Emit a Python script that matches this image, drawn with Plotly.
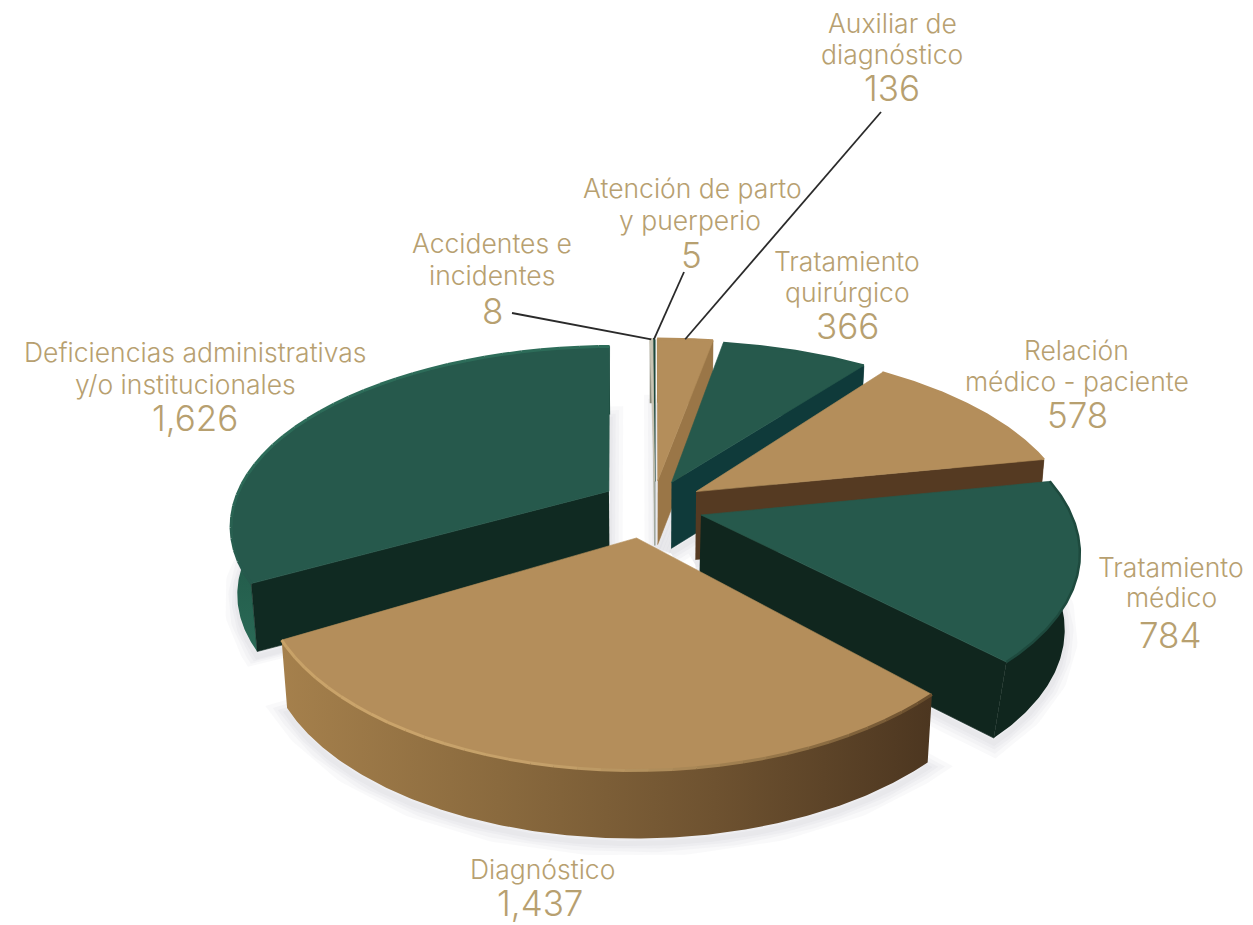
import numpy as np
import plotly.graph_objects as go

# Complaint categories, clockwise from twelve o'clock
categories = ["Auxiliar de diagnóstico", "Tratamiento quirúrgico", "Relación médico - paciente",
              "Tratamiento médico", "Diagnóstico", "Deficiencias administrativas y/o institucionales",
              "Accidentes e incidentes", "Atención de parto y puerperio"]
values = [136, 366, 578, 784, 1437, 1626, 8, 5]
value_labels = ["136", "366", "578", "784", "1,437", "1,626", "8", "5"]

# Pull-out distance of every slice, as a fraction of the pie radius
explode = [0.125, 0.15, 0.156, 0.152, 0.20, 0.125, 0.12, 0.12]
# Horizontal stretch of the rim and nudges in pixels, per slice
rim_stretch = [1.1, 1.08, 1.055, 1.035, 1.0, 1.055, 1.0, 1.0]
nudge_x = [7, 4, 3, 2, 0, 0, 8, 8]
nudge_y = [0, 4, 4, 5, 0, 0, 0, 0]
# Slice height in pixels and how much the underside narrows towards the centre
thickness = [64, 66, 68, 76, 68, 68, 64, 64]
taper = [0.985, 0.985, 0.985, 0.965, 0.985, 0.985, 1.0, 1.0]

TAN, GREEN = "#B48E5B", "#26594C"
GOLD = "#B7A070"
# top colour, rim gradient (stops, direction), cut-face colour, which radial edge shows its wall
slice_style = [
    dict(top=TAN, rim=["#9a7648", "#8a6a3e"], rim_dir="horizontal", cut="#9A7647", edge=1, bevel=["#B48E5B"]),
    dict(top=GREEN, rim=["#0F3A38", "#0F3A38"], rim_dir="horizontal", cut="#0F3A3A", edge=1, bevel=[GREEN]),
    dict(top=TAN, rim=["#6f5230", "#553A22"], rim_dir="horizontal", cut="#553A22", edge=1, bevel=["#B48E5B"]),
    dict(top=GREEN, rim=["#10261E", "#10261E"], rim_dir="horizontal", cut="#10261E", edge=1, bevel=["#1E4A3E"]),
    dict(top=TAN, rim=["#A5804C", "#8A6A3E", "#6E5230", "#4C3620"], rim_dir="horizontal", cut="#553A22", edge=None,
         bevel=["#6A4F2E", "#9A7A4C", "#C4A06A", "#CBA56C", "#C8A268"]),
    dict(top=GREEN, rim=["#2A6A56", "#123A30"], rim_dir="vertical", cut="#102A22", edge=0,
         bevel=[GREEN, "#2D6C59", "#2D6C59", "#2D6C59"]),
    dict(top="#C9C5B4", rim=["#8a8a7a", "#8a8a7a"], rim_dir="horizontal", cut="#A9A999", edge=1, bevel=["#C9C5B4"]),
    dict(top="#1E4A3E", rim=["#10261E", "#10261E"], rim_dir="horizontal", cut="#1A3A30", edge=1, bevel=["#1E4A3E"]),
]

# Projection of the tilted pie onto the page (pixels)
CX, CY, RX, RY, PERSPECTIVE = 647, 502, 355, 175, 0.183


def project(u, v):
    w = 1 - PERSPECTIVE * v
    return CX + RX * u / w, CY + RY * v / w


def lower(i, x, y):
    return CX + (x - CX) * taper[i], y + thickness[i]


total = sum(values)
edges = np.concatenate([[0], np.cumsum(values)]) / total * 360


def slice_outline(i):
    t0, t1 = np.radians(edges[i]), np.radians(edges[i + 1])
    mid = (t0 + t1) / 2
    du, dv = explode[i] * np.sin(mid), -explode[i] * np.cos(mid)
    th = np.linspace(t0, t1, max(3, int((edges[i + 1] - edges[i]) * 2)))
    ax, ay = project(du, dv)
    x, y = project(du + rim_stretch[i] * np.sin(th), dv - np.cos(th))
    return (ax + nudge_x[i], ay + nudge_y[i]), (x + nudge_x[i], y + nudge_y[i])


fig = go.Figure()


def polygon(x, y, color=None, gradient=None):
    kw = dict(x=np.asarray(x), y=np.asarray(y), mode="lines", fill="toself",
              line=dict(width=0.6, color=color or "rgba(0,0,0,0)"), hoverinfo="skip", showlegend=False)
    if gradient:
        n = len(gradient[0]) - 1
        kw["fillgradient"] = dict(type=gradient[1],
                                  colorscale=[[k / n, c] for k, c in enumerate(gradient[0])])
    else:
        kw["fillcolor"] = color
    fig.add_trace(go.Scatter(**kw))


def hex_rgb(c):
    return np.array([int(c[j:j + 2], 16) for j in (1, 3, 5)], float)


def bevel_line(x, y, stops):
    """Rim highlight whose colour runs through the given stops along the arc."""
    if len(stops) == 1:
        fig.add_trace(go.Scatter(x=x, y=y, mode="lines", hoverinfo="skip", showlegend=False,
                                 line=dict(width=2.5, color=stops[0])))
        return
    m = len(x) - 1
    step = max(1, m // 30)
    for s in range(0, m, step):
        pos = s / m * (len(stops) - 1)
        k = min(int(pos), len(stops) - 2)
        rgb = hex_rgb(stops[k]) * (1 - (pos - k)) + hex_rgb(stops[k + 1]) * (pos - k)
        col = "rgb(%d,%d,%d)" % tuple(rgb)
        fig.add_trace(go.Scatter(x=x[s:s + step + 1], y=y[s:s + step + 1], mode="lines", hoverinfo="skip",
                                 showlegend=False, line=dict(width=3, color=col)))


# Soft ground shadow under the large slices
for i in range(6):
    apex, arc = slice_outline(i)
    lx, ly = lower(i, *arc)
    ax, ay = lower(i, *apex)
    sx = np.r_[ax, lx, ax]
    sy = np.r_[ay, ly, ay] + 5
    for width in (26, 18, 11, 5):
        fig.add_trace(go.Scatter(x=sx, y=sy, mode="lines", hoverinfo="skip", showlegend=False,
                                 line=dict(width=width, color="rgba(150,160,172,0.06)")))

# Back slices first, the front ones overlap them
for i in [7, 6, 0, 1, 2, 5, 3, 4]:
    st = slice_style[i]
    apex, arc = slice_outline(i)
    ax, ay = apex
    x, y = arc
    lx, ly = lower(i, x, y)
    blx, bly = lower(i, ax, ay)
    polygon(np.r_[x, lx[::-1]], np.r_[y, ly[::-1]], gradient=(st["rim"], st["rim_dir"]))
    if st["edge"] is not None:
        k = -1 if st["edge"] == 1 else 0
        polygon([ax, x[k], lx[k], blx], [ay, y[k], ly[k], bly], color=st["cut"])
    polygon(np.r_[ax, x, ax], np.r_[ay, y, ay], color=st["top"])
    bevel_line(x, y, st["bevel"])

# Leader lines from the three smallest slices to their labels
leader_starts = {0: (881, 112), 6: (512, 313), 7: (684, 272)}
for i, (sx, sy) in leader_starts.items():
    _, arc = slice_outline(i)
    n = len(arc[0]) // 2
    fig.add_trace(go.Scatter(x=[sx, arc[0][n]], y=[sy, arc[1][n]], mode="lines", hoverinfo="skip",
                             showlegend=False, line=dict(width=1.8, color="#2A2A2A")))

# Two-size labels: name lines (centre x, centre y), then the count
label_lines = {
    0: ([("Auxiliar de", 892, 23), ("diagnóstico", 892, 54)], (892, 88)),
    1: ([("Tratamiento", 847, 261), ("quirúrgico", 847, 292)], (847, 326)),
    2: ([("Relación", 1076, 350), ("médico - paciente", 1077, 381)], (1077, 415)),
    3: ([("Tratamiento", 1171, 567), ("médico", 1171, 597)], (1170, 635)),
    4: ([("Diagnóstico", 542, 869)], (540, 903)),
    5: ([("Deficiencias administrativas", 195, 352), ("y/o institucionales", 185, 384)], (195, 418)),
    6: ([("Accidentes e", 492, 243), ("incidentes", 492, 275)], (492, 311)),
    7: ([("Atención de parto", 692, 188), ("y puerperio", 690, 220)], (691, 255)),
}
annotations = []
for i, (lines, (vx, vy)) in label_lines.items():
    for text, lx, ly in lines:
        annotations.append(dict(x=lx, y=ly, text=text, showarrow=False, xanchor="center", yanchor="middle",
                                font=dict(family="Inter", size=26.5, color=GOLD, weight=300)))
    annotations.append(dict(x=vx, y=vy, text=value_labels[i], showarrow=False, xanchor="center", yanchor="middle",
                            font=dict(family="Inter", size=35, color=GOLD, weight=300)))

fig.update_layout(
    width=1253, height=925, margin=dict(l=0, r=0, t=0, b=0),
    paper_bgcolor="white", plot_bgcolor="white", showlegend=False, annotations=annotations,
    xaxis=dict(range=[0, 1253], visible=False, fixedrange=True),
    yaxis=dict(range=[925, 0], visible=False, fixedrange=True),
)
fig.write_html("out.html", config={"displayModeBar": False})
